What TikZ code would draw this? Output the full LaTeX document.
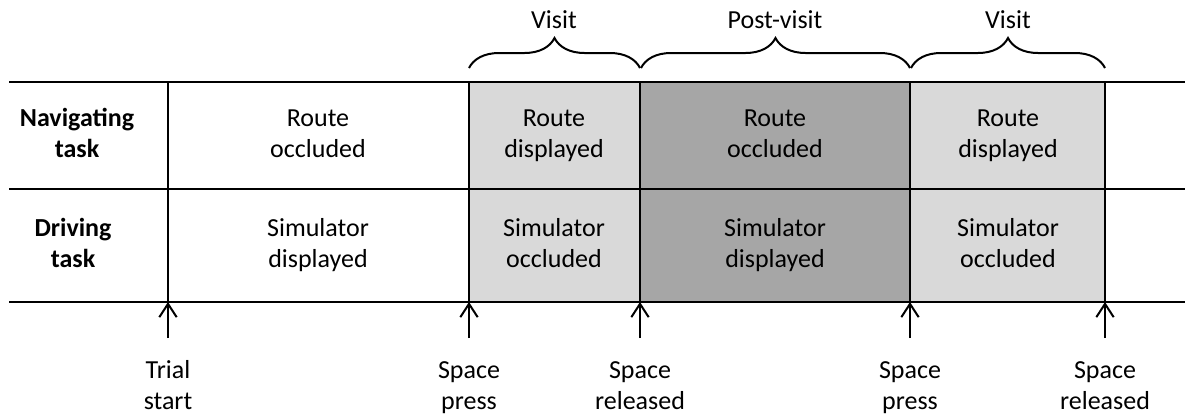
\documentclass[tikz,border=0pt]{standalone}
\usepackage{fontspec}
\setmainfont{Carlito}
\usetikzlibrary{arrows.meta,decorations.pathreplacing}
\definecolor{visitgray}{HTML}{D9D9D9}
\definecolor{postgray}{HTML}{A6A6A6}
\newcommand{\cellfont}{\fontsize{19.5}{23.25}\selectfont}
\newcommand{\two}[2]{#1\strut\\#2\strut}
\begin{document}
\begin{tikzpicture}[x=0.75pt,y=-0.75pt,
  rule/.style={line width=1.5pt,black},
  txt/.style={align=center,inner sep=0pt,font=\cellfont},
  head/.style={txt,font=\cellfont\bfseries},
  marker/.style={-{Straight Barb[length=10pt,width=13pt,line width=1.5pt]},line width=1.5pt},
  span/.style={decorate,decoration={brace,amplitude=22.5pt},line width=1.5pt}]
  \useasboundingbox (0,0) rectangle (1185,415);

  % shaded phases
  \fill[visitgray] (469,82) rectangle (640,302);
  \fill[postgray]  (640,82) rectangle (910,302);
  \fill[visitgray] (910,82) rectangle (1105,302);

  % table rules
  \draw[rule] (9,82) -- (1185,82);
  \draw[rule] (9,189) -- (1185,189);
  \draw[rule] (9,302) -- (1185,302);
  \foreach \x in {168,469,640,910,1105}
    \draw[rule] (\x,82) -- (\x,302);

  % row headers
  \node[head] (hnav) at (77,136) {\two{Navigating}{task}};
  \node[head] (hdrv) at (73,246) {\two{Driving}{task}};

  % navigating row
  \node[txt] (n1) at (318,136) {\two{Route}{occluded}};
  \node[txt] (n2) at (554,136) {\two{Route}{displayed}};
  \node[txt] (n3) at (775,136) {\two{Route}{occluded}};
  \node[txt] (n4) at (1008,136) {\two{Route}{displayed}};

  % driving row
  \node[txt] (d1) at (318,246) {\two{Simulator}{displayed}};
  \node[txt] (d2) at (554,246) {\two{Simulator}{occluded}};
  \node[txt] (d3) at (775,246) {\two{Simulator}{displayed}};
  \node[txt] (d4) at (1008,246) {\two{Simulator}{occluded}};

  % phase braces
  \draw[span] (469,68) -- (640,68);
  \draw[span] (641,68) -- (910,68);
  \draw[span] (911,68) -- (1105,68);
  \node[txt] (p1) at (554,22) {Visit\strut};
  \node[txt] (p2) at (775,22) {Post-visit\strut};
  \node[txt] (p3) at (1008,22) {Visit\strut};

  % events
  \foreach \n/\x in {0/168,1/469,2/640,3/910,4/1105}{
    \coordinate (t\n) at (\x,302);
    \coordinate (a\n) at (\x,338);
    \draw[marker] (a\n) -- (t\n);
  }
  \node[txt] (e0) at (168,388) {\two{Trial}{start}};
  \node[txt] (e1) at (469,388) {\two{Space}{press}};
  \node[txt] (e2) at (640,388) {\two{Space}{released}};
  \node[txt] (e3) at (910,388) {\two{Space}{press}};
  \node[txt] (e4) at (1105,388) {\two{Space}{released}};
\end{tikzpicture}
\end{document}
